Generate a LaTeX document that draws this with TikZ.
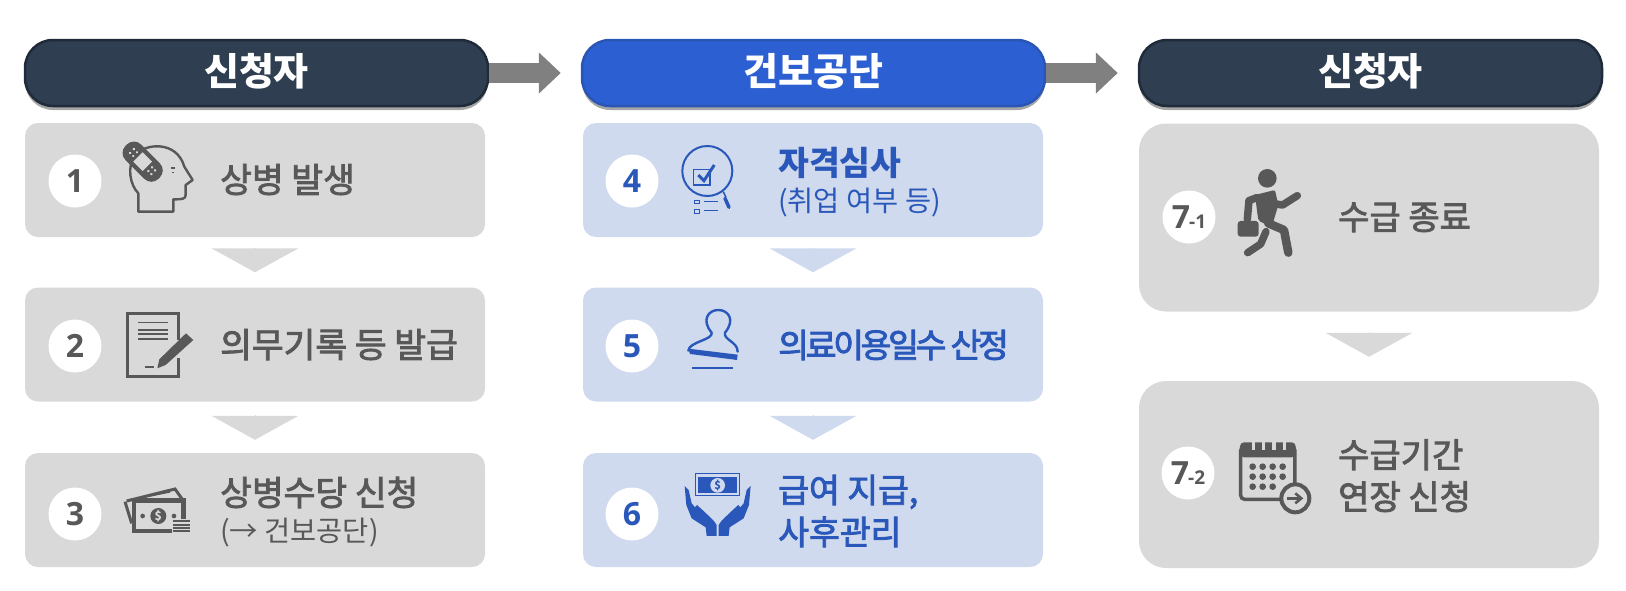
\documentclass[tikz,border=0pt]{standalone}
\usepackage{fontspec}
\setmainfont{Noto Sans CJK KR}
\newfontfamily\numfont{Open Sans}
\usetikzlibrary{arrows.meta,shadows}
\definecolor{hdrdark}{HTML}{2F3E50}
\definecolor{hdrdarkline}{HTML}{1F2B3A}
\definecolor{hdrblue}{HTML}{2C5FD2}
\definecolor{hdrblueline}{HTML}{2A55B5}
\definecolor{boxgrey}{HTML}{D9D9D9}
\definecolor{boxblue}{HTML}{D0DAEE}
\definecolor{inkgrey}{HTML}{585858}
\definecolor{inkblue}{HTML}{2A58BA}
\definecolor{arrowgrey}{HTML}{808080}
\tikzset{
	header/.style={draw,line width=2.5pt,rounded corners=28pt,minimum width=463pt,minimum height=66pt,text=white,text height=30pt,text depth=5pt,font=\fontsize{38}{42}\selectfont\bfseries,
		drop shadow={shadow xshift=0pt,shadow yshift=-4pt,fill=black!35,opacity=1}},
	hdrdarkbox/.style={header,fill=hdrdark,draw=hdrdarkline},
	hdrbluebox/.style={header,fill=hdrblue,draw=hdrblueline},
	flowbox/.style={rounded corners=13pt,minimum width=460pt,minimum height=114pt},
	greybox/.style={flowbox,fill=boxgrey},
	bluebox/.style={flowbox,fill=boxblue},
	numcirc/.style={circle,fill=white,minimum size=53pt,inner sep=0pt,font=\numfont\fontsize{32}{34}\selectfont\bfseries},
	lbl/.style={anchor=west,inner sep=0pt,text height=32pt,text depth=7pt,font=\fontsize{34.5}{38}\selectfont\addfontfeature{FakeBold=2.5}},
	bluelbl/.style={lbl,text=inkblue,font=\fontsize{33.5}{38}\selectfont\addfontfeature{FakeBold=2.5}},
	sublbl/.style={anchor=west,inner sep=0pt,text height=28pt,text depth=7pt,font=\fontsize{28.4}{32}\selectfont},
	hdrarrow/.style={-{Triangle[length=22pt,width=40pt]},line width=20pt,arrowgrey,shorten >=20pt},
	downarrow/.style={-{Triangle[length=24pt,width=87pt]},line width=0pt},
	iconline/.style={line width=2.4pt,line join=round,line cap=round},
	iconat/.style={shift={#1},scale=0.3333}
}
\begin{document}
\begin{tikzpicture}[x=1pt,y=-1pt]
	\useasboundingbox (0,0) rectangle (1626,590);
	
	\node[hdrdarkbox] (hdrA) at (256.5,73) {신청자};
	\node[hdrbluebox] (hdrB) at (813.5,73) {건보공단};
	\node[hdrdarkbox] (hdrC) at (1370.5,73) {신청자};
	
	\draw[hdrarrow] (hdrA) to (hdrB);
	\draw[hdrarrow] (hdrB) to (hdrC);
	
	\node[greybox] (boxA) at (255,180) {};
	\node[greybox] (boxB) at (255,344.5) {};
	\node[greybox] (boxC) at (255,510) {};
	\node[bluebox] (boxD) at (813,180) {};
	\node[bluebox] (boxE) at (813,344.5) {};
	\node[bluebox] (boxF) at (813,510) {};
	\node[greybox,rounded corners=27pt,minimum width=460pt,minimum height=188pt] (boxG) at (1369,217.5) {};
	\node[greybox,rounded corners=27pt,minimum width=460pt,minimum height=187pt] (boxH) at (1369,474.5) {};
	
	\draw[downarrow,boxgrey,shorten <=11pt,shorten >=15pt] (boxA) to (boxB);
	\draw[downarrow,boxgrey,shorten <=14pt,shorten >=13pt] (boxB) to (boxC);
	\draw[downarrow,boxblue,shorten <=11pt,shorten >=15pt] (boxD) to (boxE);
	\draw[downarrow,boxblue,shorten <=14pt,shorten >=13pt] (boxE) to (boxF);
	\draw[downarrow,boxgrey,shorten <=22pt,shorten >=24pt] (boxG) to (boxH);
	
	\node[numcirc,text=inkgrey] (numA) at (75,181) {1};
	\node[numcirc,text=inkgrey] (numB) at (75,346) {2};
	\node[numcirc,text=inkgrey] (numC) at (75,514) {3};
	\node[numcirc,text=inkblue] (numD) at (632,181) {4};
	\node[numcirc,text=inkblue] (numE) at (632,346) {5};
	\node[numcirc,text=inkblue] (numF) at (632,514) {6};
	\node[numcirc,text=inkgrey] (numG) at (1189,217) {7{\fontsize{19}{20}\selectfont\hspace{-1pt}-1}};
	\node[numcirc,text=inkgrey] (numH) at (1188,473) {7{\fontsize{19}{20}\selectfont\hspace{-1pt}-2}};
	
	\node[lbl,text=inkgrey] (txtA) at (220,180) {상병 발생};
	\node[lbl,text=inkgrey] (txtB) at (220,345) {의무기록 등 발급};
	\node[lbl,text=inkgrey] (txtC) at (220,493) {상병수당 신청};
	\node[sublbl,text=inkgrey] (subC) at (220,531) {(→ 건보공단)};
	\node[bluelbl,font=\fontsize{33.5}{38}\selectfont\bfseries] (txtD) at (778,163) {자격심사};
	\node[sublbl,text=inkblue] (subD) at (778,201) {(취업 여부 등)};
	\node[bluelbl,font=\fontsize{33.5}{38}\selectfont\addfontfeature{FakeBold=2.5,LetterSpace=-10}] (txtE) at (778,345) {의료이용일수 산정};
	\node[bluelbl] (txtF) at (778,490) {급여 지급,};
	\node[bluelbl] (txtFb) at (778,532) {사후관리};
	\node[lbl,text=inkgrey,font=\fontsize{34}{38}\selectfont\addfontfeature{FakeBold=2.5}] (txtG) at (1338,217) {수급 종료};
	\node[lbl,text=inkgrey,font=\fontsize{34}{38}\selectfont\addfontfeature{FakeBold=2.5}] (txtH) at (1338,455) {수급기간};
	\node[lbl,text=inkgrey,font=\fontsize{34}{38}\selectfont\addfontfeature{FakeBold=2.5}] (txtHb) at (1338,497) {연장 신청};
	
	% head
	\begin{scope}[iconat={(20,110)}]
		\draw[iconline,inkgrey] (355,305) -- (355,250) .. controls (330,225) and (320,170) .. (345,135) .. controls (375,100) and (470,90) .. (493,170) -- (518,210) -- (497,225) -- (497,255) .. controls (497,268) and (485,268) .. (460,268) -- (460,305) -- cycle;
		\fill[inkgrey,rotate around={-45:(368,155)},rounded corners=10pt] (298,122) rectangle (438,188);
		\fill[boxgrey,rotate around={-45:(368,155)}] (348,135) rectangle (388,175);
		\foreach \dx/\dy in {-45/-8,-45/8,-32/-8,-32/8,45/-8,45/8,32/-8,32/8}
			\fill[boxgrey,rotate around={-45:(368,155)}] (368+\dx,155+\dy) circle (4);
		\fill[inkgrey] (452,172) rectangle (466,176);
		\fill[inkgrey] (455,186) rectangle (463,190);
	\end{scope}
	
	% document
	\begin{scope}[iconat={(20,110)}]
		\draw[line width=3pt,inkgrey,line cap=butt,line join=miter] (475,690) -- (475,610) -- (322,610) -- (322,800) -- (475,800) -- (475,745);
		\foreach \yy in {637,660,672,687}
			\draw[inkgrey,line width=1.6pt] (355,\yy) -- (445,\yy);
		\fill[inkgrey] (498,670) -- (520,690) -- (437,765) -- (412,775) -- (418,748) -- cycle;
		\draw[inkgrey,line width=2pt] (375,772) -- (403,772);
	\end{scope}
	
	% money
	\begin{scope}[iconat={(20,390)}]
		\draw[inkgrey,line width=3pt] (315,335) -- (335,400);
		\draw[inkgrey,line width=3pt] (320,333) -- (465,297) -- (490,332);
		\draw[inkgrey,line width=2pt] (365,322) -- (450,305);
		\draw[inkgrey,line width=4.5pt,fill=boxgrey] (342,332) rectangle (490,423);
		\fill[boxgrey] (455,388) rectangle (515,430);
		\foreach \yy in {394,404,414,423}
			\draw[inkgrey,line width=1.8pt] (460,\yy) -- (510,\yy);
		\draw[inkgrey,line width=4.5pt] (340,423) -- (455,423);
		\fill[inkgrey] (415,378) circle (24);
		\fill[inkgrey] (368,378) circle (7);
		\fill[inkgrey] (462,378) circle (7);
		\node[text=boxgrey,inner sep=0pt,font=\fontsize{12}{12}\selectfont\bfseries] (usdA) at (415,378) {\$};
	\end{scope}
	
	% magnifier
	\begin{scope}[iconat={(555,110)}]
		\draw[inkblue,line width=2pt] (457,183) circle (75);
		\draw[inkblue,line width=1.5pt] (505,245) -- (513,262);
		\draw[inkblue,line width=3.5pt,line cap=round] (510,265) -- (522,292);
		\draw[inkblue,line width=1.5pt] (415,178) rectangle (465,225);
		\draw[inkblue,line width=3pt] (430,195) -- (447,212) -- (478,165);
		\draw[inkblue,line width=1pt] (420,272) rectangle (435,282);
		\draw[inkblue,line width=1pt] (420,298) rectangle (435,310);
		\draw[inkblue,line width=1pt] (448,275) -- (490,275);
		\draw[inkblue,line width=1pt] (448,303) -- (490,303);
	\end{scope}
	
	% stamp
	\begin{scope}[iconat={(555,110)}]
		\draw[iconline,inkblue] (470,668) .. controls (438,630) and (460,600) .. (490,600) .. controls (520,600) and (542,630) .. (510,668) .. controls (505,690) and (548,695) .. (548,725);
		\draw[iconline,inkblue] (470,668) .. controls (475,690) and (402,695) .. (400,722);
		\fill[inkblue] (400,716) -- (548,734) -- (546,750) -- (405,732) -- cycle;
		\draw[inkblue,line width=2.2pt] (412,775) -- (533,775);
	\end{scope}
	
	% hands
	\begin{scope}[iconat={(555,390)}]
		\draw[inkblue,line width=1pt] (422,252) rectangle (555,318);
		\fill[inkblue] (430,260) rectangle (547,310);
		\fill[boxblue] (488,286) circle (22);
		\node[text=inkblue,inner sep=0pt,font=\fontsize{11}{11}\selectfont\bfseries] (usdB) at (488,286) {\$};
		\foreach \sx in {1,-1}
			\fill[inkblue,shift={(488,0)},xscale=\sx] (-99,288) -- (-87,300) -- (-78,340) -- (-68,352) -- (-62,345) -- (-40,365) -- (-12,392) -- (-3,405) -- (-3,438) -- (-33,438) -- (-36,412) -- (-78,385) -- (-94,345) -- cycle;
	\end{scope}
	
	% runner
	\begin{scope}[iconat={(1100,130)}]
		\fill[inkgrey] (502,145) circle (28);
		\fill[inkgrey,rounded corners=2pt] (465,195) -- (525,180) -- (535,225) -- (515,292) -- (475,272) -- cycle;
		\draw[inkgrey,line width=7.5pt,line cap=round,line join=round] (470,203) -- (447,212) -- (442,268);
		\draw[inkgrey,line width=7.5pt,line cap=round,line join=round] (528,222) -- (548,225) -- (592,197);
		\draw[inkgrey,line width=8.5pt,line cap=round,line join=round] (505,280) -- (552,300) -- (565,368);
		\draw[inkgrey,line width=7.5pt,line cap=round,line join=round] (498,305) -- (482,342) -- (443,368);
		\fill[inkgrey,rounded corners=3pt] (413,273) rectangle (476,320);
	\end{scope}
	
	% calendar
	\begin{scope}[iconat={(1100,400)}]
		\draw[inkgrey,line width=3.5pt,rounded corners=4pt] (422,140) rectangle (585,298);
		\fill[inkgrey,rounded corners=4pt] (420,127) rectangle (587,172);
		\foreach \xx in {460,490,522,553}
			\fill[boxgrey] (\xx-5,122) rectangle (\xx+5,150);
		\foreach \yy in {200,230}
			\foreach \xx in {458,488,518,548}
				\fill[inkgrey] (\xx,\yy) circle (10);
		\foreach \xx in {458,488,518}
			\fill[inkgrey] (\xx,260) circle (10);
		\draw[inkgrey,line width=4pt,fill=boxgrey] (586,295) circle (42);
		\draw[inkgrey,line width=2.6pt,-{Straight Barb[length=6pt,width=10pt]}] (562,295) -- (610,295);
	\end{scope}
\end{tikzpicture}
\end{document}
